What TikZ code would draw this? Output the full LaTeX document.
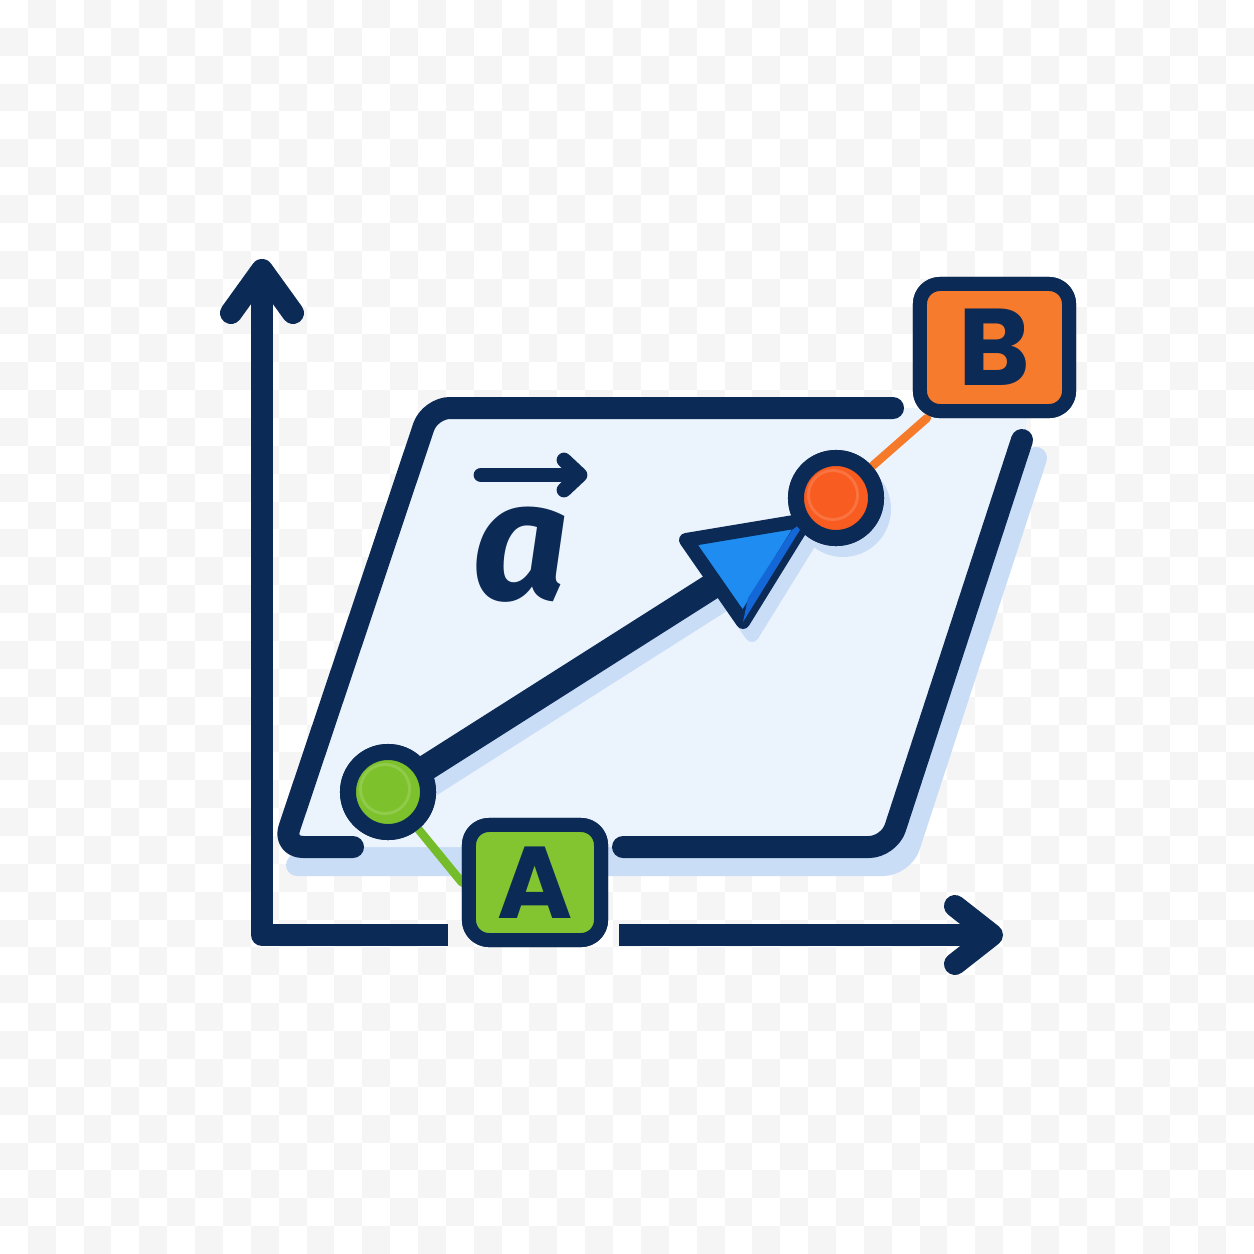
\documentclass[tikz,border=0pt]{standalone}
\usepackage{fontspec}
\newfontfamily\labfont{Poppins}
\newfontfamily\vecfont{Fira Sans}
\usetikzlibrary{calc}
\definecolor{navy}{HTML}{0B2A55}
\definecolor{planefill}{HTML}{EBF3FD}
\definecolor{shadowblue}{HTML}{C9DDF7}
\definecolor{boxorange}{HTML}{F67B2D}
\definecolor{dotorange}{HTML}{F85C20}
\definecolor{lineorange}{HTML}{F57A2A}
\definecolor{boxgreen}{HTML}{82C531}
\definecolor{dotgreen}{HTML}{7DC22C}
\definecolor{linegreen}{HTML}{74BC2A}
\definecolor{tipblue}{HTML}{1E8CF0}
\definecolor{tipdark}{HTML}{1467D6}
\definecolor{checker}{HTML}{F5F5F5}
\begin{document}
\begin{tikzpicture}[x=0.01cm,y=-0.01cm,line cap=round,line join=round,
  axisline/.style={draw=navy,line width=6.26pt},
  edgeline/.style={draw=navy,line width=6.26pt,rounded corners=0.2cm},
  shaftline/.style={draw=navy,line width=7.4pt},
  linkline/.style={line width=2.4pt},
  dotnode/.style={circle,draw=navy,line width=4.55pt,minimum size=0.8cm,inner sep=0pt},
  tagbox/.style={rectangle,rounded corners=0.2cm,draw=navy,line width=3.98pt,inner sep=0pt},
]
\useasboundingbox (0,0) rectangle (1254,1254);
% checkerboard background
\fill[white] (0,0) rectangle (1254,1254);
\foreach \i in {0,...,44}{
  \foreach \j in {0,...,44}{
    \pgfmathtruncatemacro\k{mod(\i+\j,2)}
    \ifnum\k=1
      \fill[checker] ({\i*27.8667},{\j*27.8667}) rectangle +(27.8667,27.8667);
    \fi
  }
}
% plane shadow
\fill[shadowblue,rounded corners=0.2cm] (297,865) -- (444,426) -- (1000,426) -- (1036,458) -- (903,865) -- cycle;
\draw[shadowblue,line width=6.26pt,rounded corners=0.2cm] (1036,458) -- (903,865) -- (297,865);
% plane fill
\fill[planefill,rounded corners=0.2cm] (283,847) -- (430,408) -- (1032,408) -- (889,847) -- cycle;
% plane outline
\draw[edgeline] (353,847) -- (283,847) -- (430,408) -- (893,408);
\draw[edgeline] (623,847) -- (889,847) -- (1022,440);
% axes
\draw[axisline] (231,313) -- (262,270) -- (293,313);
\draw[axisline,line cap=butt] (262,280) -- (262,935) -- (448,935);
\draw[axisline,line cap=butt] (619,935) -- (985,935);
\draw[axisline] (955,906) -- (992,935) -- (955,964);
% named points
\coordinate (tback) at (714,585);
\coordinate (t1) at (686,540);
\coordinate (t2) at (806,520);
\coordinate (t3) at (743,622);
% shadows of vector
\draw[shadowblue,line width=7.4pt] ($(388,792)+(9,13)$) -- ($(tback)+(9,13)$);
\filldraw[draw=shadowblue,fill=shadowblue,line width=3.98pt] ($(t1)+(9,13)$) -- ($(t2)+(9,13)$) -- ($(t3)+(9,13)$) -- cycle;
\fill[shadowblue] ($(836,498)+(7,11)$) circle (48);
% circles and boxes (named)
\node[dotnode,fill=dotgreen] (ca) at (388,792) {};
\node[dotnode,fill=dotorange] (cb) at (836,498) {};
\node[tagbox,fill=boxorange,minimum width=1.49cm,minimum height=1.27cm] (bb) at (994.5,347.5) {};
\node[tagbox,fill=boxgreen,minimum width=1.32cm,minimum height=1.15cm] (ba) at (535,882.5) {};
% vector shaft and head
\draw[shaftline] (ca.center) -- (tback);
\filldraw[draw=navy,fill=tipblue,line width=3.98pt] (t1) -- (t2) -- (t3) -- cycle;
\fill[tipdark] (t2) -- (t3) -- (748,598) -- (792,530) -- cycle;
% links
\draw[lineorange,linkline] (cb.center) -- ($(bb.south west)+(14,0)$);
\draw[linegreen,linkline] (ca.center) -- (ba.west);
% redraw circles and boxes on top
\node[dotnode,fill=dotgreen] at (ca) {};
\node[dotnode,fill=dotorange] at (cb) {};
\fill[white,opacity=0.15] ($(ca)+(-3,-3)$) circle (26);
\fill[dotgreen] ($(ca)+(-3,-3)$) circle (23);
\fill[white,opacity=0.15] ($(cb)+(-3,-3)$) circle (26);
\fill[dotorange] ($(cb)+(-3,-3)$) circle (23);
\node[tagbox,fill=boxorange,minimum width=1.49cm,minimum height=1.27cm] at (bb) {\labfont\bfseries\fontsize{31pt}{31pt}\selectfont\color{navy}B};
\node[tagbox,fill=boxgreen,minimum width=1.32cm,minimum height=1.15cm] at (ba) {\labfont\bfseries\fontsize{29pt}{29pt}\selectfont\color{navy}A};
% vector label
\node[inner sep=0pt,text=navy] (lab) at (521,555) {\vecfont\bfseries\itshape\fontsize{48pt}{48pt}\selectfont a};
\draw[navy,line width=4.2pt] (481,475) -- (579,475);
\draw[navy,line width=4.2pt] (564,460) -- (580,475) -- (564,490);
\end{tikzpicture}
\end{document}
